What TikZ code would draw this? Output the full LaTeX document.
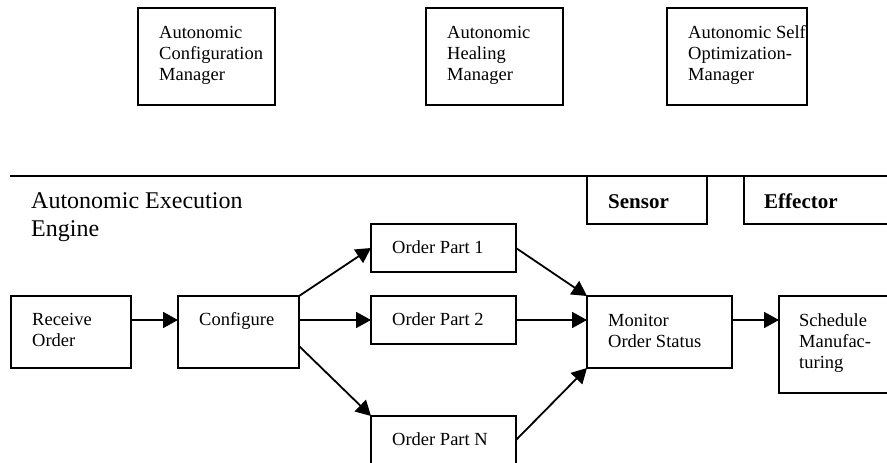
\documentclass[tikz,border=0pt]{standalone}
\usepackage{fontspec}
\setmainfont{Liberation Serif}
\usetikzlibrary{arrows.meta}
\begin{document}
\begin{tikzpicture}[x=1pt,y=-1pt,
  box/.style={draw, line width=1.8pt, rectangle, inner sep=0pt, outer sep=0pt, anchor=north west},
  txt/.style={anchor=base west, inner sep=0pt, align=left, font=\fontsize{18.5}{21}\selectfont},
  head/.style={anchor=base west, inner sep=0pt, align=left, font=\fontsize{24}{28}\selectfont},
  btxt/.style={anchor=base west, inner sep=0pt, font=\fontsize{21}{24}\selectfont\bfseries},
  arr/.style={line width=1.8pt, -{Triangle[length=15pt,width=16pt]}},
]
\useasboundingbox (0,0) rectangle (887,463);
% managers
\node[box, minimum width=137pt, minimum height=97pt] (acm) at (138,8) {};
\node[txt] (acmt) at (159,80) {Autonomic\\Configuration\\Manager};
\node[box, minimum width=137pt, minimum height=97pt] (ahm) at (426,8) {};
\node[txt] (ahmt) at (447,80) {Autonomic\\Healing\\Manager};
\node[box, minimum width=140pt, minimum height=97pt] (asm) at (667,8) {};
\node[txt] (asmt) at (688,80) {Autonomic Self\\Optimization-\\Manager};
% engine boundary
\coordinate (l0) at (10,176);
\coordinate (l1) at (895,176);
\draw[line width=1.8pt] (l0) -- (l1);
\node[head] (eng) at (31,236) {Autonomic Execution\\Engine};
\node[box, minimum width=120pt, minimum height=48pt] (sen) at (587,176) {};
\node[btxt] (sent) at (608,208) {Sensor};
\node[box, minimum width=160pt, minimum height=48pt] (eff) at (744,176) {};
\node[btxt] (efft) at (764,208) {Effector};
% process
\node[box, minimum width=120pt, minimum height=72pt] (rec) at (11,296) {};
\node[txt] (rect) at (32,346) {Receive\\Order};
\node[box, minimum width=121pt, minimum height=72pt] (conf) at (178,296) {};
\node[txt] (conft) at (199,325) {Configure};
\node[box, minimum width=145pt, minimum height=48pt] (p1) at (371,224) {};
\node[txt] (p1t) at (392,253) {Order Part 1};
\node[box, minimum width=145pt, minimum height=48pt] (p2) at (371,296) {};
\node[txt] (p2t) at (392,325) {Order Part 2};
\node[box, minimum width=145pt, minimum height=48pt] (pn) at (371,416) {};
\node[txt] (pnt) at (392,445) {Order Part N};
\node[box, minimum width=145pt, minimum height=72pt] (mon) at (587,296) {};
\node[txt] (mont) at (608,347) {Monitor\\Order Status};
\node[box, minimum width=130pt, minimum height=97pt] (sch) at (779,296) {};
\node[txt] (scht) at (799,368) {Schedule\\Manufac-\\turing};
% connectors
\draw[arr] ([yshift=-24pt]rec.north east) -- ([yshift=-24pt]conf.north west);
\draw[arr] (conf.north east) -- (p1.west);
\draw[arr] ([yshift=-24pt]conf.north east) -- (p2.west);
\draw[arr] ([yshift=-50pt]conf.north east) -- (pn.north west);
\draw[arr] (p1.east) -- (mon.north west);
\draw[arr] (p2.east) -- ([yshift=-24pt]mon.north west);
\draw[arr] (pn.east) -- (mon.south west);
\draw[arr] ([yshift=-24pt]mon.north east) -- ([yshift=-24pt]sch.north west);
\end{tikzpicture}
\end{document}
